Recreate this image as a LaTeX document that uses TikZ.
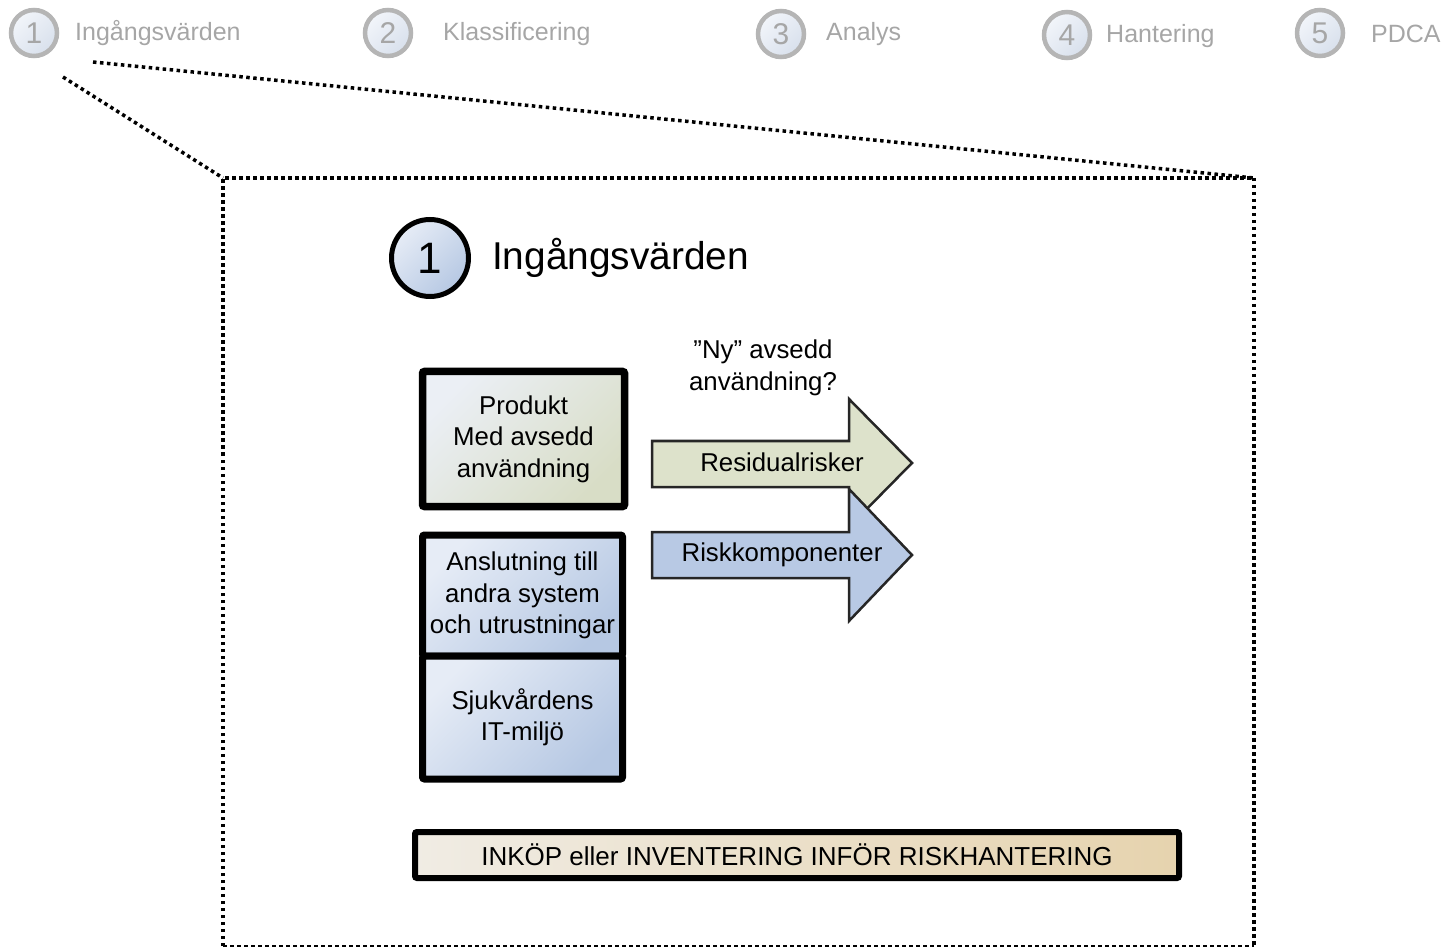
\documentclass[tikz,border=0pt]{standalone}
\usepackage{fontspec}
\setmainfont{Liberation Sans}
\definecolor{hdrtext}{HTML}{A6A6A6}
\definecolor{hdrring}{HTML}{B5B5B5}
\definecolor{hdrfillA}{HTML}{F2F5FA}
\definecolor{hdrfillB}{HTML}{D8E0EC}
\definecolor{bluelight}{HTML}{E6ECF6}
\definecolor{bluedark}{HTML}{B6C8E3}
\definecolor{greenlight}{HTML}{EBEFF5}
\definecolor{greendark}{HTML}{D8DDC6}
\definecolor{arrowgreen}{HTML}{DDE2CB}
\definecolor{arrowblue}{HTML}{B8C9E4}
\definecolor{beigelight}{HTML}{F0ECE4}
\definecolor{beigedark}{HTML}{E6D3AE}
\tikzset{
  hdrcircle/.style={circle, draw=hdrring, line width=4.5pt, minimum size=46pt, inner sep=0pt,
    top color=hdrfillA, bottom color=hdrfillB, shading angle=45,
    text=hdrtext, font=\fontsize{30}{34}\selectfont},
  hdrlabel/.style={anchor=west, inner sep=0pt, text=hdrtext, font=\fontsize{25}{30}\selectfont},
  dotline/.style={line width=3.5pt, dash pattern=on 3.5pt off 3.5pt},
  dashline/.style={line width=1.5pt, dash pattern=on 4pt off 3pt},
  boxtext/.style={font=\fontsize{25.8}{31.5}\selectfont, align=center},
  greenbox/.style={draw=black, line width=7.5pt, rounded corners=2pt, inner sep=0pt,
    top color=greenlight, middle color=greendark, bottom color=greendark, shading angle=45, boxtext},
  bluebox/.style={draw=black, line width=7pt, rounded corners=2pt, inner sep=0pt,
    top color=bluelight, middle color=bluedark!70!bluelight, bottom color=bluedark, shading angle=45, boxtext},
  arrowshape/.style={draw=black!85, line width=2.5pt, line join=miter},
}
\begin{document}
\begin{tikzpicture}[x=1pt,y=-1pt]
\useasboundingbox (0,0) rectangle (1446,949);
% header
\node[hdrcircle] (c1) at (34,33) {1};
\node[hdrlabel] (l1) at (75,33) {Ingångsvärden};
\node[hdrcircle] (c2) at (388,33) {2};
\node[hdrlabel] (l2) at (443,34) {Klassificering};
\node[hdrcircle] (c3) at (781,34) {3};
\node[hdrlabel] (l3) at (826,34) {Analys};
\node[hdrcircle] (c4) at (1067,35) {4};
\node[hdrlabel] (l4) at (1106,36) {Hantering};
\node[hdrcircle] (c5) at (1320,33) {5};
\node[hdrlabel] (l5) at (1371,34) {PDCA};
% zoom frame
\coordinate (zA) at (93,62);
\coordinate (zB) at (63,77);
\coordinate (tl) at (223,178);
\coordinate (tr) at (1254,178);
\coordinate (br) at (1254,946);
\coordinate (bl) at (223,946);
\draw[dotline] (zA) -- (tr);
\draw[dotline] (zB) -- (tl);
\draw[dotline] (bl) -- (tl) -- (tr) -- (br);
\draw[dashline] (bl) -- (br);
% title
\node[circle, draw=black, line width=5pt, minimum size=77pt, inner sep=0pt,
  top color=bluelight, bottom color=bluedark, shading angle=45,
  font=\fontsize{44}{50}\selectfont] (big1) at (430,258) {1};
\node[anchor=west, inner sep=0pt, font=\fontsize{38.8}{46}\selectfont] (title) at (492,258) {Ingångsvärden};
% boxes
\node[greenbox, minimum width=202pt, minimum height=135pt] (prod) at (523.5,439) {Produkt\\Med avsedd\\användning};
\node[bluebox, minimum width=200pt, minimum height=121pt] (ansl) at (522.5,595.5) {Anslutning till\\andra system\\och utrustningar};
\node[bluebox, minimum width=200pt, minimum height=123pt] (sjuk) at (522.5,717.5) {Sjukvårdens\\IT-miljö};
% arrows
\draw[arrowshape, fill=arrowgreen] (652,441) -- (849,441) -- (849,399) -- (912,463) -- (849,527) -- (849,487) -- (652,487) -- cycle;
\draw[arrowshape, fill=arrowblue] (652,532) -- (849,532) -- (849,489) -- (912,555) -- (849,621) -- (849,578) -- (652,578) -- cycle;
\node[boxtext] (resid) at (782,462) {Residualrisker};
\node[boxtext] (riskk) at (782,555) {Riskkomponenter};
\node[boxtext] (ny) at (763,368) {”Ny” avsedd\\användning?};
% bottom bar
\node[draw=black, line width=6pt, rounded corners=2pt, inner sep=0pt,
  left color=beigelight, right color=beigedark,
  minimum width=764pt, minimum height=46pt,
  font=\fontsize{26}{30}\selectfont] (bar) at (797,855) {INKÖP eller INVENTERING INFÖR RISKHANTERING};
\end{tikzpicture}
\end{document}
